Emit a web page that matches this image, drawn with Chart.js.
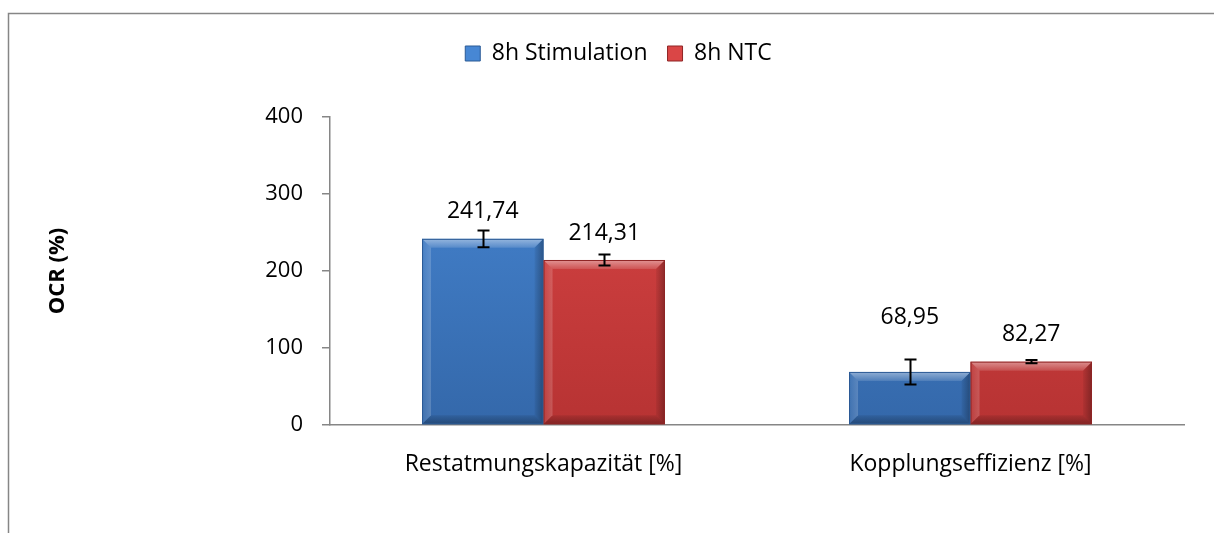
<!DOCTYPE html>
<html><head><meta charset="utf-8">
<script src="https://cdn.jsdelivr.net/npm/chart.js@4.4.1/dist/chart.umd.min.js"></script>
<style>html,body{margin:0;padding:0;background:#fff;}#wrap{width:1214px;height:533px;}</style>
</head><body><div id="wrap"><canvas id="c" width="1214" height="533"></canvas></div>
<script>
const categories = ['Restatmungskapazität [%]', 'Kopplungseffizienz [%]'];
const seriesNames = ['8h Stimulation', '8h NTC'];
const stimulationValues = [241.74, 68.95];
const ntcValues = [214.31, 82.27];
const stimulationErrors = [10.8, 16.2];
const ntcErrors = [7.1, 2.2];
const yTickValues = [0, 100, 200, 300, 400];
const yTitle = 'OCR (%)';

const FONT = "'Open Sans', 'Noto Sans', sans-serif";
const GRAY = '#868686';
const palettes = [
  {top:'#4787d4', bottom:'#3468aa', edge:'#2b5a95'},
  {top:'#da4646', bottom:'#b73333', edge:'#8f2525'}
];
const errorSets = [stimulationErrors, ntcErrors];
// extra lift (px above bar top) of the value labels
const labelLift = [[27, 54], [27, 27]];

function faceGradient(i) {
  return (ctx) => {
    const ch = ctx.chart; const a = ch.chartArea;
    if (!a) return palettes[i].top;
    const g = ch.ctx.createLinearGradient(0, a.top, 0, a.bottom);
    g.addColorStop(0, palettes[i].top);
    g.addColorStop(1, palettes[i].bottom);
    return g;
  };
}

function poly(ctx, pts, fill) {
  ctx.beginPath();
  ctx.moveTo(pts[0][0], pts[0][1]);
  for (let k = 1; k < pts.length; k++) ctx.lineTo(pts[k][0], pts[k][1]);
  ctx.closePath();
  ctx.fillStyle = fill;
  ctx.fill();
}

const framePlugin = {
  id: 'frame',
  beforeDraw(chart) {
    const c = chart.ctx;
    c.save();
    c.fillStyle = '#fff';
    c.fillRect(0, 0, chart.width, chart.height);
    c.strokeStyle = GRAY;
    c.lineWidth = 1.5;
    c.strokeRect(8.5, 13.5, chart.width + 20, chart.height + 20);
    c.restore();
  }
};

const legendSpace = {
  id: 'legendSpace',
  beforeInit(chart) {
    const leg = chart.legend;
    if (!leg) return;
    const orig = leg.fit;
    leg.fit = function () {
      orig.apply(this, arguments);
      this.height = 117 - 22;
    };
  },
  afterLayout(chart) {
    const leg = chart.legend;
    if (!leg) return;
    leg.left += 6; leg.right += 6;
  }
};

const decor = {
  id: 'decor',
  afterDatasetsDraw(chart) {
    const c = chart.ctx;
    const yS = chart.scales.y;
    c.save();
    chart.data.datasets.forEach((ds, di) => {
      const meta = chart.getDatasetMeta(di);
      meta.data.forEach((bar, j) => {
        const p = bar.getProps(['x', 'y', 'base', 'width'], true);
        const l = p.x - p.width / 2, r = p.x + p.width / 2, t = p.y, b = p.base;
        const s = Math.min(9, (b - t) / 2, (r - l) / 2);
        let g = c.createLinearGradient(0, t, 0, t + s);
        g.addColorStop(0, 'rgba(255,255,255,0.45)');
        g.addColorStop(1, 'rgba(255,255,255,0.12)');
        poly(c, [[l, t], [r, t], [r - s, t + s], [l + s, t + s]], g);
        g = c.createLinearGradient(l, 0, l + s, 0);
        g.addColorStop(0, 'rgba(255,255,255,0.05)');
        g.addColorStop(1, 'rgba(255,255,255,0.18)');
        poly(c, [[l, t], [l + s, t + s], [l + s, b - s], [l, b]], g);
        g = c.createLinearGradient(r - s, 0, r, 0);
        g.addColorStop(0, 'rgba(0,0,0,0.05)');
        g.addColorStop(1, 'rgba(0,0,0,0.3)');
        poly(c, [[r, t], [r, b], [r - s, b - s], [r - s, t + s]], g);
        g = c.createLinearGradient(0, b - s, 0, b);
        g.addColorStop(0, 'rgba(0,0,0,0.08)');
        g.addColorStop(1, 'rgba(0,0,0,0.3)');
        poly(c, [[l, b], [l + s, b - s], [r - s, b - s], [r, b]], g);
        c.strokeStyle = palettes[di].edge;
        c.lineWidth = 1;
        c.strokeRect(l + 0.5, t + 0.5, r - l - 1, b - t - 1);
      });
    });
    c.strokeStyle = '#000';
    c.lineWidth = 2;
    chart.data.datasets.forEach((ds, di) => {
      const meta = chart.getDatasetMeta(di);
      meta.data.forEach((bar, j) => {
        const v = ds.data[j], e = errorSets[di][j];
        const x = Math.round(bar.x) + 0.5;
        const y1 = yS.getPixelForValue(v + e), y2 = yS.getPixelForValue(v - e);
        c.beginPath();
        c.moveTo(x, y1); c.lineTo(x, y2);
        c.moveTo(x - 6, y1); c.lineTo(x + 6, y1);
        c.moveTo(x - 6, y2); c.lineTo(x + 6, y2);
        c.stroke();
      });
    });
    c.fillStyle = '#000';
    c.font = '23px ' + FONT;
    c.textAlign = 'center';
    c.textBaseline = 'middle';
    chart.data.datasets.forEach((ds, di) => {
      const meta = chart.getDatasetMeta(di);
      meta.data.forEach((bar, j) => {
        const txt = ds.data[j].toFixed(2).replace('.', ',');
        c.fillText(txt, bar.x, bar.y - labelLift[di][j]);
      });
    });
    c.restore();
  }
};

new Chart(document.getElementById('c'), {
  type: 'bar',
  data: {
    labels: categories,
    datasets: [
      {label: seriesNames[0], data: stimulationValues, backgroundColor: faceGradient(0),
       borderColor: palettes[0].edge, borderWidth: 0},
      {label: seriesNames[1], data: ntcValues, backgroundColor: faceGradient(1),
       borderColor: palettes[1].edge, borderWidth: 0}
    ]
  },
  options: {
    responsive: false,
    devicePixelRatio: 1,
    animation: false,
    layout: {padding: {left: 41, right: 30, top: 22, bottom: 0}},
    datasets: {bar: {barPercentage: 1, categoryPercentage: 0.569}},
    plugins: {
      legend: {
        position: 'top',
        labels: {
          boxWidth: 15, boxHeight: 15, padding: 20, color: '#000',
          font: {family: FONT, size: 23},
          generateLabels(chart) {
            return chart.data.datasets.map((ds, i) => ({
              text: ds.label, fillStyle: palettes[i].top, strokeStyle: palettes[i].edge,
              lineWidth: 1, datasetIndex: i, hidden: false
            }));
          }
        }
      },
      tooltip: {enabled: false}
    },
    scales: {
      x: {
        grid: {display: false},
        border: {display: true, color: GRAY, width: 1.5},
        ticks: {color: '#000', font: {family: FONT, size: 23}, padding: 18},
        afterFit(scale) { scale.height = 108; }
      },
      y: {
        min: 0, max: 400,
        afterBuildTicks(scale) { scale.ticks = yTickValues.map(v => ({value: v})); },
        grid: {drawOnChartArea: false, drawTicks: true, tickLength: 8, color: GRAY, lineWidth: 1.5},
        border: {display: true, color: GRAY, width: 1.5},
        ticks: {color: '#000', font: {family: FONT, size: 22}, padding: 19},
        title: {display: true, text: yTitle, color: '#000', font: {family: FONT, size: 22, weight: 'bold'}},
        afterFit(scale) { scale.width = 289; }
      }
    }
  },
  plugins: [framePlugin, legendSpace, decor]
});
</script></body></html>
